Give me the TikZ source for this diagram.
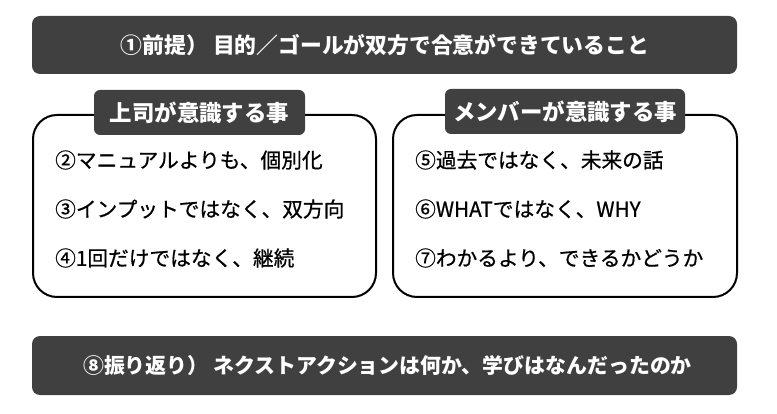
\documentclass[tikz,border=0pt]{standalone}
\usepackage{fontspec}
\setmainfont{Noto Sans CJK JP}
\newfontfamily\jpm{Noto Sans CJK JP}[FakeBold=0.7]
\definecolor{dark}{HTML}{404040}
\tikzset{
  bar/.style={fill=dark, draw=none, rounded corners=8pt},
  panel/.style={draw=black, line width=2pt, rounded corners=24pt, fill=white},
  tag/.style={fill=dark, draw=none, rounded corners=6pt},
  bartext/.style={text=white, font=\fontsize{21.8}{24}\selectfont\bfseries, inner sep=0pt},
  tagtext/.style={text=white, font=\fontsize{22.4}{24}\selectfont\bfseries, inner sep=0pt},
  item/.style={text=black, font=\fontsize{20.7}{23}\jpm, anchor=west, inner sep=0pt}
}
\begin{document}
\begin{tikzpicture}[x=1pt,y=-1pt]
\useasboundingbox (0,0) rectangle (777,414);
\fill[white] (0,0) rectangle (777,414);
% top bar
\path[bar] (32,16) rectangle (737,74);
\node[bartext] (top) at (385,45) {①前提）\ 目的／ゴールが双方で合意ができていること};
% left panel
\path[panel] (33,115) rectangle (376,297);
\path[tag] (94,90) rectangle (305,135);
\node[tagtext] (ltag) at (199.5,112.5) {上司が意識する事};
\node[item] (i2) at (55,160) {②マニュアルよりも、個別化};
\node[item] (i3) at (55,209) {③インプットではなく、双方向};
\node[item] (i4) at (55,258) {④1回だけではなく、継続};
% right panel
\path[panel] (393,115) rectangle (737,297);
\path[tag] (445,89) rectangle (685,134);
\node[tagtext] (rtag) at (565,111.5) {メンバーが意識する事};
\node[item] (i5) at (415,160) {⑤過去ではなく、未来の話};
\node[item] (i6) at (415,209) {⑥WHATではなく、WHY};
\node[item] (i7) at (415,258) {⑦わかるより、できるかどうか};
% bottom bar
\path[bar] (32,336) rectangle (737,395);
\node[bartext, font=\fontsize{20.9}{23}\selectfont\bfseries] (bot) at (387.5,365.5) {⑧振り返り）\ ネクストアクションは何か、学びはなんだったのか};
\end{tikzpicture}
\end{document}
